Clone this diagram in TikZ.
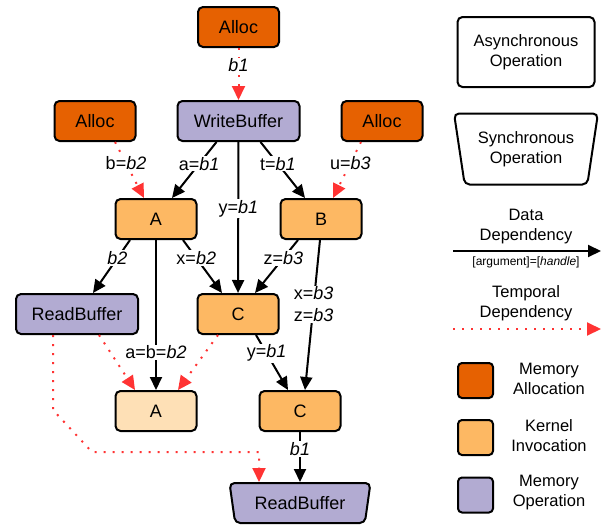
\documentclass[tikz,border=0pt]{standalone}
\usepackage{fontspec}
\setmainfont{Liberation Sans}
\usetikzlibrary{shapes.geometric, arrows.meta, positioning}
\definecolor{allocorange}{RGB}{230,97,1}
\definecolor{kernelorange}{RGB}{253,184,99}
\definecolor{kernellight}{RGB}{254,224,182}
\definecolor{memviolet}{RGB}{178,171,210}
\definecolor{tempred}{RGB}{255,51,51}

\begin{document}
\begin{tikzpicture}[
    x=1pt, y=-1pt,
    font=\fontsize{18}{22}\selectfont,
    op/.style={rectangle, rounded corners=5pt, minimum width=81pt, minimum height=40pt, draw=black, line width=2pt, text centered, inner sep=2pt},
    alloc/.style={op, fill=allocorange},
    kernel/.style={op, fill=kernelorange},
    memop/.style={op, fill=memviolet, minimum width=122pt},
    syncop/.style={trapezium, trapezium angle=78, trapezium stretches=true, shape border rotate=180, rounded corners=5pt, draw=black, line width=2pt, minimum height=40pt, align=center},
    data/.style={-{Triangle[length=13pt,width=12pt]}, line width=2pt},
    temporal/.style={-{Triangle[length=14pt,width=13pt]}, line width=2pt, color=tempred, dash pattern=on 2pt off 7pt},
    lbl/.style={fill=white, text=black, inner sep=1pt},
    legtext/.style={font=\fontsize{16.5}{20}\selectfont, align=center},
    swatch/.style={rectangle, rounded corners=4pt, draw=black, line width=2pt, minimum size=35pt}
]
\useasboundingbox (0,0) rectangle (605,525);

% Operations, top to bottom
\node[alloc] (alloc1) at (238.5,27) {Alloc};
\node[memop, below=52pt of alloc1] (write) {WriteBuffer};
\node[alloc, left=40pt of write] (alloc2) {Alloc};
\node[alloc, right=40pt of write] (alloc3) {Alloc};

\node[kernel] (kA) at (156,219) {A};
\node[kernel] (kB) at (321,219) {B};

\node[memop] (read1) at (77,314) {ReadBuffer};
\node[kernel] (kC) at (238,314) {C};

\node[kernel, fill=kernellight] (kA2) at (156,411) {A};
\node[kernel] (kC2) at (300,411) {C};

\node[syncop, fill=memviolet, minimum width=141pt] (read2) at (300,503) {ReadBuffer};

% Data and temporal dependencies
\draw[temporal] (alloc1) -- node[lbl, pos=0.33] {\textit{b1}} (write);
\draw[temporal] ([xshift=20pt]alloc2.south) -- node[lbl, pos=0.38] {b=\textit{b2}} ([xshift=-12pt]kA.north);
\draw[data] ([xshift=-22pt]write.south) -- node[lbl, pos=0.39] {a=\textit{b1}} ([xshift=16pt]kA.north);
\draw[data] (write) -- node[lbl, pos=0.44] {y=\textit{b1}} (kC);
\draw[data] ([xshift=22pt]write.south) -- node[lbl, pos=0.39] {t=\textit{b1}} ([xshift=-16pt]kB.north);
\draw[temporal] ([xshift=-21pt]alloc3.south) -- node[lbl, pos=0.38] {u=\textit{b3}} ([xshift=12pt]kB.north);

\draw[data] ([xshift=-26pt]kA.south) -- node[lbl, pos=0.34] {\textit{b2}} ([xshift=16pt]read1.north);
\draw[data] ([xshift=27pt]kA.south) -- node[lbl, pos=0.34] {x=\textit{b2}} ([xshift=-16pt]kC.north);
\draw[data] (kA) -- node[lbl, pos=0.75] {a=b=\textit{b2}} (kA2);
\draw[data] ([xshift=-23pt]kB.south) -- node[lbl, pos=0.34] {z=\textit{b3}} ([xshift=17pt]kC.north);
\draw[data] ([xshift=-1pt]kB.south) -- node[lbl, pos=0.43, align=center] {x=\textit{b3}\\z=\textit{b3}} ([xshift=5pt]kC2.north);

\draw[temporal] ([xshift=22pt]read1.south) -- ([xshift=-21pt]kA2.north);
\draw[temporal] ([xshift=-20pt]kC.south) -- ([xshift=22pt]kA2.north);
\draw[data] ([xshift=18pt]kC.south) -- node[lbl, pos=0.33] {y=\textit{b1}} ([xshift=-12pt]kC2.north);
\draw[data] (kC2) -- node[lbl, pos=0.34] {\textit{b1}} (read2);
\draw[temporal] ([xshift=-24pt]read1.south) -- ++(0,75) -- ++(39,42) -| ([xshift=-41pt]read2.north);

% Legend
\node[op, minimum width=137pt, minimum height=70pt, legtext] (async) at (526,52) {Asynchronous\\Operation};
\node[syncop, minimum width=144pt, minimum height=71pt, legtext] (sync) at (526,149) {Synchronous\\Operation};

\node[legtext] (datatext) at (526,227) {Data\\Dependency};
\coordinate (dstart) at (453,251);
\coordinate (dend) at (601,251);
\draw[data] (dstart) -- (dend);
\node[font=\fontsize{12}{14}\selectfont] (datanote) at (526,262) {[argument]=[\textit{handle}]};

\node[legtext] (temptext) at (526,303) {Temporal\\Dependency};
\coordinate (tstart) at (453,329);
\coordinate (tend) at (601,329);
\draw[temporal] (tstart) -- (tend);

\node[swatch, fill=allocorange] (swalloc) at (475.5,380.5) {};
\node[swatch, fill=kernelorange] (swkernel) at (475.5,437.5) {};
\node[swatch, fill=memviolet] (swmem) at (475.5,495) {};
\node[legtext] (talloc) at (549,379) {Memory\\Allocation};
\node[legtext] (tkernel) at (549,436) {Kernel\\Invocation};
\node[legtext] (tmem) at (549,493) {Memory\\Operation};

\end{tikzpicture}
\end{document}
